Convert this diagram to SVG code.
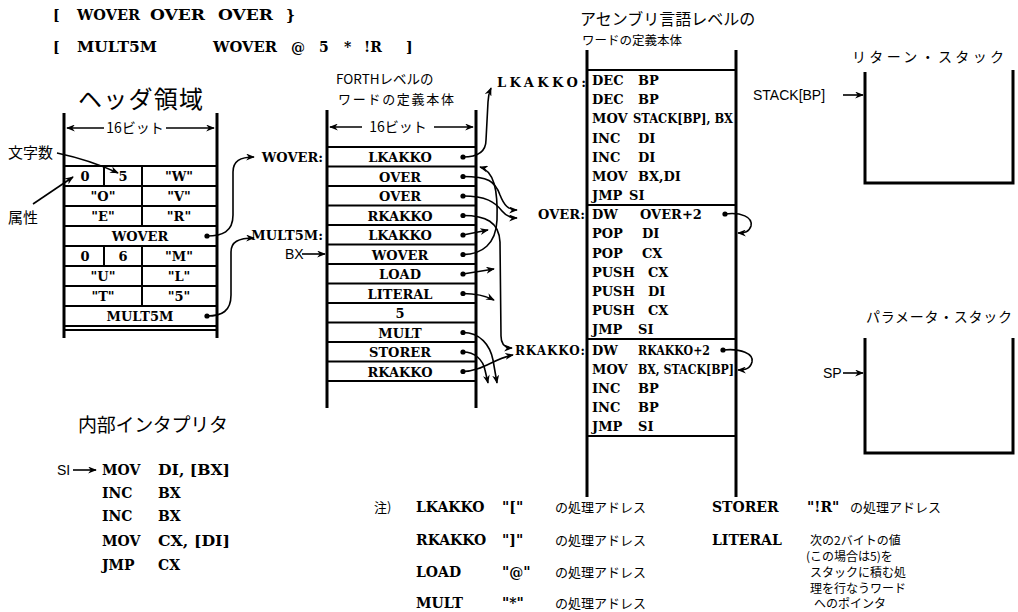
<svg xmlns="http://www.w3.org/2000/svg" width="1018" height="612" viewBox="0 0 1018 612">
<style>
.c{font-family:"DejaVu Serif","Liberation Serif",serif;font-weight:bold;font-size:13px;fill:#000}
.cs{font-family:"DejaVu Serif","Liberation Serif",serif;font-weight:bold;font-size:12px;fill:#000}
.t{font-size:14px}
.m{text-anchor:middle}
.e{text-anchor:end}
.j{font-family:"Noto Sans CJK JP","Noto Sans",sans-serif;fill:#000}
.s{font-family:"Liberation Sans","DejaVu Sans",sans-serif;fill:#000}
.ln{stroke:#000;stroke-width:2;fill:none}
.v{stroke:#000;stroke-width:3;fill:none}
.cn{stroke:#000;stroke-width:1.6;fill:none;marker-end:url(#ah)}
.d{fill:#000}
</style>
<defs>
<marker id="ah" viewBox="0 0 10 8" refX="9" refY="4" markerWidth="9" markerHeight="7" markerUnits="userSpaceOnUse" orient="auto"><path d="M0,0 L10,4 L0,8 L3,4z" fill="#000"/></marker>
</defs>
<rect width="1018" height="612" fill="#fff"/>

<g id="source">
<text class="c t" x="53" y="20">[</text>
<text class="c t" x="77" y="20" textLength="63" lengthAdjust="spacingAndGlyphs">WOVER</text>
<text class="c t" x="150" y="20" textLength="55" lengthAdjust="spacingAndGlyphs">OVER</text>
<text class="c t" x="218" y="20" textLength="55" lengthAdjust="spacingAndGlyphs">OVER</text>
<text class="c t" x="286" y="20">}</text>
<text class="c t" x="53" y="52">[</text>
<text class="c t" x="77" y="52" textLength="80" lengthAdjust="spacingAndGlyphs">MULT5M</text>
<text class="c t" x="213" y="52" textLength="64" lengthAdjust="spacingAndGlyphs">WOVER</text>
<text class="c t" x="291" y="52">@</text>
<text class="c t" x="319" y="52">5</text>
<text class="c t" x="344" y="52">*</text>
<text class="c t" x="364" y="52">!R</text>
<text class="c t" x="406" y="52">]</text>
</g>

<g id="header">
<text class="j" x="78" y="108" font-size="24" textLength="125">ヘッダ領域</text>
<line class="v" x1="64" y1="113" x2="64" y2="338"/>
<line class="v" x1="217" y1="113" x2="217" y2="338"/>
<line class="ln" x1="104" y1="128" x2="67" y2="128" style="marker-end:url(#ah);stroke-width:1.5"/>
<text class="j" x="135" y="133" font-size="14" text-anchor="middle">16ビット</text>
<line class="ln" x1="166" y1="128" x2="214" y2="128" style="marker-end:url(#ah);stroke-width:1.5"/>
<path class="ln" d="M64,166H217M64,186H217M64,206H217M64,226H217M64,246H217M64,266H217M64,286H217M64,306H217M64,326H217M64,330H217"/>
<path class="ln" d="M142,166V226M142,246V306M104,166V186M104,246V266"/>
<text class="c m" x="85" y="181">0</text>
<text class="c m" x="123" y="181">5</text>
<text class="c m" x="179" y="181">"W"</text>
<text class="c m" x="103" y="201">"O"</text>
<text class="c m" x="179" y="201">"V"</text>
<text class="c m" x="103" y="221">"E"</text>
<text class="c m" x="179" y="221">"R"</text>
<text class="c m" x="140" y="241">WOVER</text>
<circle class="d" cx="207" cy="236" r="2.6"/>
<text class="c m" x="85" y="261">0</text>
<text class="c m" x="123" y="261">6</text>
<text class="c m" x="179" y="261">"M"</text>
<text class="c m" x="103" y="281">"U"</text>
<text class="c m" x="179" y="281">"L"</text>
<text class="c m" x="103" y="301">"T"</text>
<text class="c m" x="179" y="301">"5"</text>
<text class="c m" x="140" y="321">MULT5M</text>
<circle class="d" cx="207" cy="316" r="2.6"/>
<text class="j" x="8" y="158" font-size="15">文字数</text>
<text class="j" x="8" y="223" font-size="15">属性</text>
</g>

<g id="forth">
<text class="j" x="336" y="84" font-size="13.5">FORTHレベルの</text>
<text class="j" x="338" y="104" font-size="13" textLength="116">ワードの定義本体</text>
<line class="v" x1="327" y1="110" x2="327" y2="408"/>
<line class="v" x1="476" y1="110" x2="476" y2="408"/>
<line class="ln" x1="362" y1="127" x2="330" y2="127" style="marker-end:url(#ah);stroke-width:1.5"/>
<text class="j" x="398" y="132" font-size="14" text-anchor="middle">16ビット</text>
<line class="ln" x1="434" y1="127" x2="473" y2="127" style="marker-end:url(#ah);stroke-width:1.5"/>
<path class="ln" d="M327,147H476M327,166.5H476M327,186H476M327,205.5H476M327,225H476M327,244.5H476M327,264H476M327,283.5H476M327,303H476M327,322.5H476M327,342H476M327,361.5H476M327,381H476"/>
<text class="c m" x="400" y="162">LKAKKO</text>
<text class="c m" x="400" y="181.5">OVER</text>
<text class="c m" x="400" y="201">OVER</text>
<text class="c m" x="400" y="220.5">RKAKKO</text>
<text class="c m" x="400" y="240">LKAKKO</text>
<text class="c m" x="400" y="259.5">WOVER</text>
<text class="c m" x="400" y="279">LOAD</text>
<text class="c m" x="400" y="298.5">LITERAL</text>
<text class="c m" x="400" y="318">5</text>
<text class="c m" x="400" y="337.5">MULT</text>
<text class="c m" x="400" y="357">STORER</text>
<text class="c m" x="400" y="376.5">RKAKKO</text>
<g class="d">
<circle cx="463" cy="157" r="2.6"/><circle cx="463" cy="176.5" r="2.6"/><circle cx="463" cy="196" r="2.6"/><circle cx="463" cy="215.5" r="2.6"/><circle cx="463" cy="235" r="2.6"/><circle cx="463" cy="254.5" r="2.6"/><circle cx="463" cy="274" r="2.6"/><circle cx="463" cy="293.5" r="2.6"/><circle cx="463" cy="332.5" r="2.6"/><circle cx="463" cy="352" r="2.6"/><circle cx="463" cy="371.5" r="2.6"/>
</g>
<text class="c e" x="323" y="162">WOVER:</text>
<text class="c e" x="323" y="240" font-size="12">MULT5M:</text>
<text class="s" x="285" y="259" font-size="14">BX</text>
</g>

<g id="asm">
<text class="j" x="580" y="25" font-size="16">アセンブリ言語レベルの</text>
<text class="j" x="582" y="45" font-size="12.5">ワードの定義本体</text>
<line class="v" x1="587" y1="50" x2="587" y2="497"/>
<line class="v" x1="736" y1="50" x2="736" y2="497"/>
<path class="ln" d="M587,70H736M587,205H736M587,339H736M587,436H736"/>
<text class="c" x="592" y="85">DEC</text><text class="c" x="638" y="85">BP</text>
<text class="c" x="592" y="104">DEC</text><text class="c" x="638" y="104">BP</text>
<text class="c" x="592" y="123">MOV</text><text class="c" x="633" y="123" textLength="100" lengthAdjust="spacingAndGlyphs">STACK[BP], BX</text>
<text class="c" x="592" y="143">INC</text><text class="c" x="638" y="143">DI</text>
<text class="c" x="592" y="162">INC</text><text class="c" x="638" y="162">DI</text>
<text class="c" x="592" y="181">MOV</text><text class="c" x="638" y="181">BX,DI</text>
<text class="c" x="592" y="200">JMP</text><text class="c" x="629" y="200">SI</text>
<text class="c" x="592" y="219">DW</text><text class="c" x="640" y="219">OVER+2</text>
<text class="c" x="592" y="238">POP</text><text class="c" x="642" y="238">DI</text>
<text class="c" x="592" y="258">POP</text><text class="c" x="642" y="258">CX</text>
<text class="c" x="592" y="277">PUSH</text><text class="c" x="648" y="277">CX</text>
<text class="c" x="592" y="296">PUSH</text><text class="c" x="648" y="296">DI</text>
<text class="c" x="592" y="315">PUSH</text><text class="c" x="648" y="315">CX</text>
<text class="c" x="592" y="334">JMP</text><text class="c" x="638" y="334">SI</text>
<text class="c" x="592" y="355">DW</text><text class="cs" x="638" y="355" textLength="72" lengthAdjust="spacingAndGlyphs">RKAKKO+2</text>
<text class="c" x="592" y="374">MOV</text><text class="cs" x="638" y="374" textLength="96" lengthAdjust="spacingAndGlyphs">BX, STACK[BP]</text>
<text class="c" x="592" y="393">INC</text><text class="c" x="638" y="393">BP</text>
<text class="c" x="592" y="412">INC</text><text class="c" x="638" y="412">BP</text>
<text class="c" x="592" y="431">JMP</text><text class="c" x="638" y="431">SI</text>
<circle class="d" cx="725" cy="214" r="2.6"/>
<circle class="d" cx="723" cy="350" r="2.6"/>
<text class="c" x="497" y="87" textLength="89">LKAKKO:</text>
<text class="c" x="538" y="219" textLength="47">OVER:</text>
<text class="cs" x="515" y="355" textLength="70">RKAKKO:</text>
</g>

<g id="rstack">
<text class="j" x="852" y="62" font-size="14" textLength="152">リターン・スタック</text>
<path class="v" d="M865,72V183H1013V70"/>
<text class="s" x="753" y="100" font-size="14">STACK[BP]</text>
</g>

<g id="pstack">
<text class="j" x="866" y="322" font-size="14" textLength="146">パラメータ・スタック</text>
<path class="v" d="M865,338V453H1013V338"/>
<text class="s" x="823" y="378" font-size="14">SP</text>
</g>

<g id="interp">
<text class="j" x="78" y="432" font-size="19" textLength="150">内部インタプリタ</text>
<text class="s" x="57" y="475" font-size="14">SI</text>
<text class="c t" x="102" y="475">MOV</text><text class="c t" x="158" y="475" textLength="72" lengthAdjust="spacingAndGlyphs">DI, [BX]</text>
<text class="c t" x="102" y="498">INC</text><text class="c t" x="158" y="498">BX</text>
<text class="c t" x="102" y="521">INC</text><text class="c t" x="158" y="521">BX</text>
<text class="c t" x="102" y="546">MOV</text><text class="c t" x="158" y="546" textLength="72" lengthAdjust="spacingAndGlyphs">CX, [DI]</text>
<text class="c t" x="102" y="570">JMP</text><text class="c t" x="158" y="570">CX</text>
</g>

<g id="legend">
<text class="j" x="374" y="512" font-size="13">注)</text>
<text class="c t" x="416" y="512">LKAKKO</text><text class="c t" x="502" y="512">"["</text><text class="j" x="555" y="512" font-size="13">の処理アドレス</text>
<text class="c t" x="416" y="545">RKAKKO</text><text class="c t" x="502" y="545">"]"</text><text class="j" x="555" y="545" font-size="13">の処理アドレス</text>
<text class="c t" x="416" y="577">LOAD</text><text class="c t" x="502" y="577">"@"</text><text class="j" x="555" y="577" font-size="13">の処理アドレス</text>
<text class="c t" x="416" y="608">MULT</text><text class="c t" x="502" y="608">"*"</text><text class="j" x="555" y="608" font-size="13">の処理アドレス</text>
<text class="c t" x="712" y="512">STORER</text><text class="c t" x="807" y="512">"!R"</text><text class="j" x="850" y="512" font-size="13">の処理アドレス</text>
<text class="c t" x="712" y="545">LITERAL</text>
<text class="j" x="810" y="545" font-size="12">次の2バイトの値</text>
<text class="j" x="806" y="561" font-size="12">(この場合は5)を</text>
<text class="j" x="810" y="577" font-size="12">スタックに積む処</text>
<text class="j" x="810" y="593" font-size="12">理を行なうワード</text>
<text class="j" x="814" y="608" font-size="12">へのポインタ</text>
</g>

<g id="connectors">
<path class="cn" d="M57,153 Q90,160 118,173"/>
<path class="cn" d="M33,204 L73,177"/>
<path class="cn" d="M207,236 C222,236 233,232 233,215 L233,172 C233,161 240,157 254,157"/>
<path class="cn" d="M207,316 C222,316 231,311 231,295 L231,252 C231,242 238,238 254,238"/>
<path class="cn" d="M302,254 L325,254"/>
<path class="cn" d="M463,157 C476,157 486,153 486,140 L488,102 C488,96 489,93 491,88"/>
<path class="cn" d="M463,176.5 C488,176.5 495,181 500,195 C504,205 508,210 517,210"/>
<path class="cn" d="M463,196 C486,196 495,202 502,211 C506,216 510,218 517,218"/>
<path class="cn" d="M463,215.5 C486,215.5 499,222 500,242 L501,336 C501,344 504,348 512,348"/>
<path class="cn" d="M463,235 L488,230"/>
<path class="cn" d="M463,254.5 C482,254.5 496,244 497,220 C498,190 494,171 480,167"/>
<path class="cn" d="M463,274 L494,269"/>
<path class="cn" d="M463,293.5 C476,293.5 486,296 494,300"/>
<path class="cn" d="M463,332.5 C480,332.5 490,345 493,360 L497,383"/>
<path class="cn" d="M463,352 C475,352 483,360 485,370 L488,383"/>
<path class="cn" d="M463,371.5 C482,371.5 495,358 513,355"/>
<path class="cn" d="M725,214 C741,212 753,217 751,226 C749,232 745,233 738,233"/>
<path class="cn" d="M723,350 C741,348 754,354 752,362 C750,369 745,370 738,370"/>
<path class="cn" d="M843,95 L863,95"/>
<path class="cn" d="M843,373 L863,373"/>
<path class="cn" d="M73,470 L96,470"/>
</g>
</svg>
